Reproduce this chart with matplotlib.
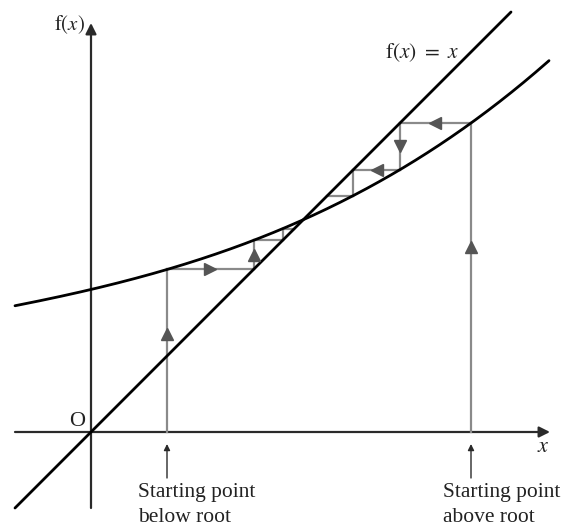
import numpy as np
import matplotlib
matplotlib.use("Agg")
import matplotlib.pyplot as plt

plt.rcParams['mathtext.fontset'] = 'stix'
plt.rcParams['font.family'] = ['Liberation Serif', 'DejaVu Serif']

curve_x = [-76, 0, 76, 162, 267, 312, 380, 458]
curve_y = [127, 142, 160, 194, 240, 265, 305, 373]
# straight line f(x) = x
line_x = [-76, 420]
# starting points of the iteration
start_below = 76
start_above = 380
n_steps = 3

coef = np.polyfit(curve_x, curve_y, 3)
f = lambda x: np.polyval(coef, x)

fig = plt.figure(figsize=(5.61, 5.27), dpi=100)
ax = fig.add_axes([0, 0, 1, 1])
ax.set_xlim(-91, 470)
ax.set_ylim(-95, 432)
ax.axis('off')

axc = '#2a2a2a'
cw = '#8a8a8a'
mk = '#555555'

# axes with arrowheads
ax.annotate('', xy=(459, 0), xytext=(-76, 0),
            arrowprops=dict(arrowstyle='-|>', mutation_scale=16, lw=1.6, color=axc, shrinkA=0, shrinkB=0))
ax.annotate('', xy=(0, 409), xytext=(0, -76),
            arrowprops=dict(arrowstyle='-|>', mutation_scale=16, lw=1.6, color=axc, shrinkA=0, shrinkB=0))

# curves
xs = np.linspace(curve_x[0], curve_x[-1], 400)
ax.plot(xs, f(xs), color='black', lw=2.0, solid_capstyle='round', zorder=5)
ax.plot(line_x, line_x, color='black', lw=2.0, solid_capstyle='round', zorder=5)

def marker(x, y, d):
    m = {'up': '^', 'down': 'v', 'left': '<', 'right': '>'}[d]
    ax.plot([x], [y], marker=m, ms=8, color=mk, zorder=6)

def cobweb(x0, steps, h_arrows, v_arrows):
    y0 = f(x0)
    ax.plot([x0, x0], [0, y0], color=cw, lw=1.6, zorder=3)
    marker(x0, y0 * 0.6, 'up')
    x = x0
    for i in range(steps):
        y = f(x)
        ax.plot([x, y], [y, y], color=cw, lw=1.6, zorder=3)
        if i < h_arrows:
            marker((x + y) / 2, y, 'right' if y > x else 'left')
        xn = y
        yn = f(xn)
        if i < steps - 1:
            ax.plot([xn, xn], [y, yn], color=cw, lw=1.6, zorder=3)
            if i < v_arrows:
                marker(xn, (y + yn) / 2, 'up' if yn > y else 'down')
        x = xn

cobweb(start_below, n_steps, 1, 1)
cobweb(start_above, n_steps, 2, 1)

# starting point pointers
for sx in (start_below, start_above):
    ax.annotate('', xy=(sx, -12), xytext=(sx, -46),
                arrowprops=dict(arrowstyle='-|>', mutation_scale=9, lw=1.0, color=axc, shrinkA=0, shrinkB=0))

fs = 15.5
ax.text(47, -61, 'Starting point', fontsize=fs, ha='left', va='center', color='#222')
ax.text(47, -86, 'below root', fontsize=fs, ha='left', va='center', color='#222')
ax.text(352, -61, 'Starting point', fontsize=fs, ha='left', va='center', color='#222')
ax.text(352, -86, 'above root', fontsize=fs, ha='left', va='center', color='#222')

ax.text(-6, 407, r'$\mathrm{f}(x)$', fontsize=15, ha='right', va='center', color='#222')
ax.text(294, 379, r'$\mathrm{f}(x)\ =\ x$', fontsize=15.5, ha='left', va='center', color='#222')
ax.text(-14, 11, 'O', fontsize=16, ha='center', va='center', color='#222')
ax.text(452, -16, r'$x$', fontsize=16, ha='center', va='center', color='#222')

fig.savefig('out.png', dpi=100)
